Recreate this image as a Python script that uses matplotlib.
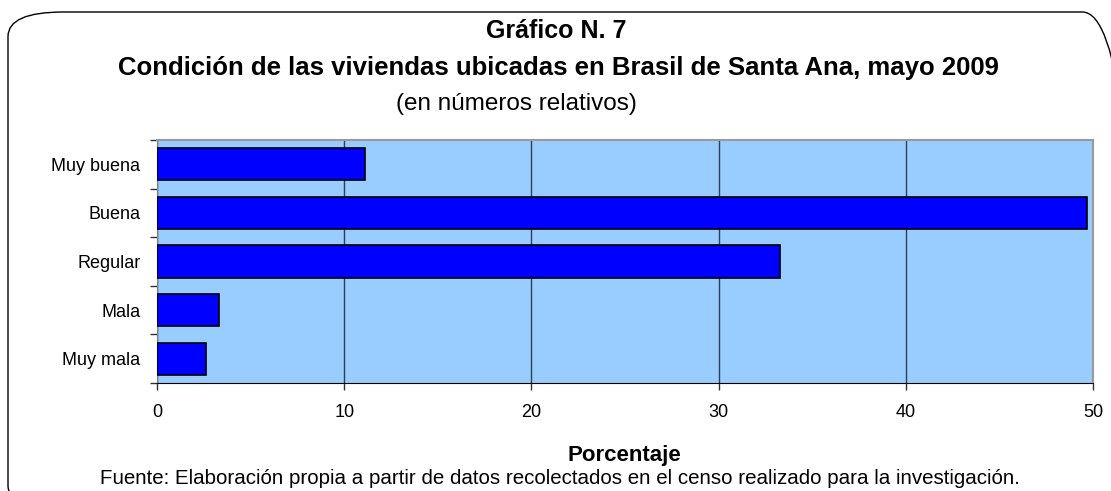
import matplotlib
matplotlib.use('Agg')
import matplotlib.pyplot as plt
from matplotlib.patches import FancyBboxPatch

categorias = ['Muy buena', 'Buena', 'Regular', 'Mala', 'Muy mala']
porcentaje = [11.1, 49.7, 33.3, 3.3, 2.6]
xticks = [0, 10, 20, 30, 40, 50]

plt.rcParams['font.family'] = ['Liberation Sans', 'DejaVu Sans']

W, H = 1111, 491
fig = plt.figure(figsize=(W / 100, H / 100), dpi=100)
fig.patch.set_facecolor('white')

# rounded frame (runs off the right and bottom edges)
frame = FancyBboxPatch((8 / W, 1 - 510 / H), 1130 / W, 498 / H,
                       boxstyle='round,pad=0,rounding_size=0.05',
                       transform=fig.transFigure, fill=False,
                       edgecolor='black', linewidth=1.0, clip_on=False)
fig.patches.append(frame)

ax = fig.add_axes([157 / W, 1 - 383 / H, (1093 - 157) / W, (383 - 140) / H])
ax.set_facecolor('#99CCFF')

y = list(range(len(categorias)))
ax.barh(y, porcentaje, height=0.66, color='#0000FF', edgecolor='black',
        linewidth=1.2, zorder=3)
ax.set_ylim(len(categorias) - 0.5, -0.5)
ax.set_xlim(0, 50)
ax.set_xticks(xticks)
ax.set_xticklabels([str(t) for t in xticks], fontsize=13)
ax.set_yticks(y)
ax.set_yticklabels(categorias, fontsize=13)
ax.tick_params(axis='y', length=0, pad=12)
ax.set_yticks([i + 0.5 for i in range(-1, len(categorias))], minor=True)
ax.tick_params(axis='y', which='minor', length=5, width=1, color='#333333')
ax.tick_params(axis='x', length=5, width=1, color='#333333', pad=10)

ax.grid(axis='x', color='#2F3F55', linewidth=1.0, zorder=1)
for s in ['top', 'right']:
    ax.spines[s].set_color('#999999')
    ax.spines[s].set_linewidth(1.5)
ax.spines['left'].set_color('#808080')
ax.spines['bottom'].set_color('black')

fig.text(556 / W, 1 - 31 / H, 'Gráfico N. 7', ha='center', va='center',
         fontsize=18, fontweight='bold')
fig.text(558 / W, 1 - 68 / H,
         'Condición de las viviendas ubicadas en Brasil de Santa Ana, mayo 2009',
         ha='center', va='center', fontsize=18.5, fontweight='bold')
fig.text(516 / W, 1 - 104 / H, '(en números relativos)', ha='center',
         va='center', fontsize=17.5)
fig.text(624 / W, 1 - 456 / H, 'Porcentaje', ha='center', va='center',
         fontsize=16, fontweight='bold')
fig.text(560 / W, 1 - 478 / H,
         'Fuente: Elaboración propia a partir de datos recolectados en el censo realizado para la investigación.',
         ha='center', va='center', fontsize=14.8)

fig.savefig('out.png', dpi=100)
